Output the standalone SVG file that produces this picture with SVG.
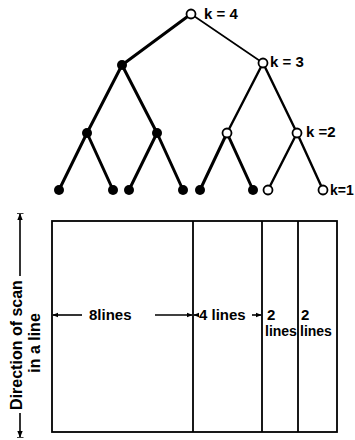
<svg xmlns="http://www.w3.org/2000/svg" width="355" height="440" viewBox="0 0 355 440">
<defs>
<marker id="ah" viewBox="0 0 10 10" refX="9" refY="5" markerWidth="6" markerHeight="6" orient="auto-start-reverse" markerUnits="userSpaceOnUse">
<path d="M0,1 L10,5 L0,9 z" fill="#000"/>
</marker>
<marker id="ahb" viewBox="0 0 10 10" refX="9" refY="5" markerWidth="7" markerHeight="7" orient="auto-start-reverse" markerUnits="userSpaceOnUse">
<path d="M0,1 L10,5 L0,9 z M9,0 L10,0 L10,10 L9,10 z" fill="#000"/>
</marker>
</defs>
<style>
.t{font-family:"Liberation Sans",Arial,sans-serif;font-weight:bold;font-size:15px;fill:#000}
.ts{font-family:"Liberation Sans",Arial,sans-serif;font-weight:bold;font-size:14px;fill:#000}
.tv{font-family:"Liberation Sans",Arial,sans-serif;font-weight:bold;font-size:16px;fill:#000}
.thick{stroke:#000;stroke-width:3;fill:none;stroke-linecap:round}
.med{stroke:#000;stroke-width:2.4;fill:none;stroke-linecap:round}
.thin{stroke:#000;stroke-width:1.6;fill:none;stroke-linecap:round}
.full{fill:#000}
.open{fill:#fff;stroke:#000;stroke-width:1.8}
.box{fill:none;stroke:#000;stroke-width:1.8}
.div{stroke:#000;stroke-width:1.8}
.ar{stroke:#000;stroke-width:1.6;fill:none}
</style>
<g id="connectors">
<line class="thick" x1="191" y1="14" x2="122" y2="65"/>
<line class="thin" x1="191" y1="14" x2="263" y2="63"/>
<line class="thick" x1="122" y1="65" x2="87" y2="133"/>
<line class="thick" x1="122" y1="65" x2="157" y2="133"/>
<line class="med" x1="263" y1="63" x2="227" y2="133"/>
<line class="med" x1="263" y1="63" x2="297" y2="133"/>
<line class="thick" x1="87" y1="133" x2="59" y2="190"/>
<line class="thick" x1="87" y1="133" x2="113" y2="190"/>
<line class="thick" x1="157" y1="133" x2="129" y2="190"/>
<line class="thick" x1="157" y1="133" x2="183" y2="190"/>
<line class="thick" x1="227" y1="133" x2="200" y2="190"/>
<line class="thick" x1="227" y1="133" x2="253" y2="190"/>
<line class="med" x1="297" y1="133" x2="268" y2="190"/>
<line class="med" x1="297" y1="133" x2="323" y2="190"/>
</g>
<g id="n4"><circle class="open" cx="191" cy="14" r="4.5"/><text class="t" x="204" y="19">k = 4</text></g>
<g id="n3l"><circle class="full" cx="122" cy="65" r="5"/></g>
<g id="n3r"><circle class="open" cx="263" cy="63" r="4.5"/><text class="t" x="270" y="67">k = 3</text></g>
<g id="n2a"><circle class="full" cx="87" cy="133" r="5"/></g>
<g id="n2b"><circle class="full" cx="157" cy="133" r="5"/></g>
<g id="n2c"><circle class="open" cx="227" cy="133" r="4.5"/></g>
<g id="n2d"><circle class="open" cx="297" cy="133" r="4.5"/><text class="t" x="306" y="137">k =2</text></g>
<g id="l1"><circle class="full" cx="59" cy="190" r="5"/></g>
<g id="l2"><circle class="full" cx="113" cy="190" r="5"/></g>
<g id="l3"><circle class="full" cx="129" cy="190" r="5"/></g>
<g id="l4"><circle class="full" cx="183" cy="190" r="5"/></g>
<g id="l5"><circle class="full" cx="200" cy="190" r="5"/></g>
<g id="l6"><circle class="full" cx="253" cy="190" r="5"/></g>
<g id="l7"><circle class="open" cx="268" cy="190" r="4.5"/></g>
<g id="l8"><circle class="open" cx="323" cy="190" r="4.5"/><text class="ts" x="330" y="195">k=1</text></g>
<g id="scan">
<rect class="box" x="52" y="221" width="285" height="211"/>
<line class="div" x1="193" y1="221" x2="193" y2="432"/>
<line class="div" x1="262" y1="221" x2="262" y2="432"/>
<line class="div" x1="298" y1="221" x2="298" y2="432"/>
<line class="ar" x1="82" y1="315" x2="53" y2="315" marker-end="url(#ah)"/>
<line class="ar" x1="155" y1="315" x2="192" y2="315" marker-end="url(#ah)"/>
<line class="ar" x1="198" y1="315" x2="194" y2="315" marker-end="url(#ah)"/>
<line class="ar" x1="252" y1="315" x2="261" y2="315" marker-end="url(#ah)"/>
<text class="t" x="89" y="320">8lines</text>
<text class="t" x="199" y="320">4 lines</text>
<text class="t" x="267" y="320">2</text>
<text class="ts" x="265" y="336">lines</text>
<text class="t" x="301" y="320">2</text>
<text class="ts" x="300" y="336">lines</text>
</g>
<g id="direction">
<line class="ar" x1="20" y1="276" x2="20" y2="214" marker-end="url(#ahb)"/>
<line class="ar" x1="20" y1="413" x2="20" y2="437" marker-end="url(#ahb)"/>
<text class="tv" transform="translate(22,345) rotate(-90)" text-anchor="middle">Direction of scan</text>
<text class="tv" transform="translate(40,343) rotate(-90)" text-anchor="middle">in a line</text>
</g>
</svg>
